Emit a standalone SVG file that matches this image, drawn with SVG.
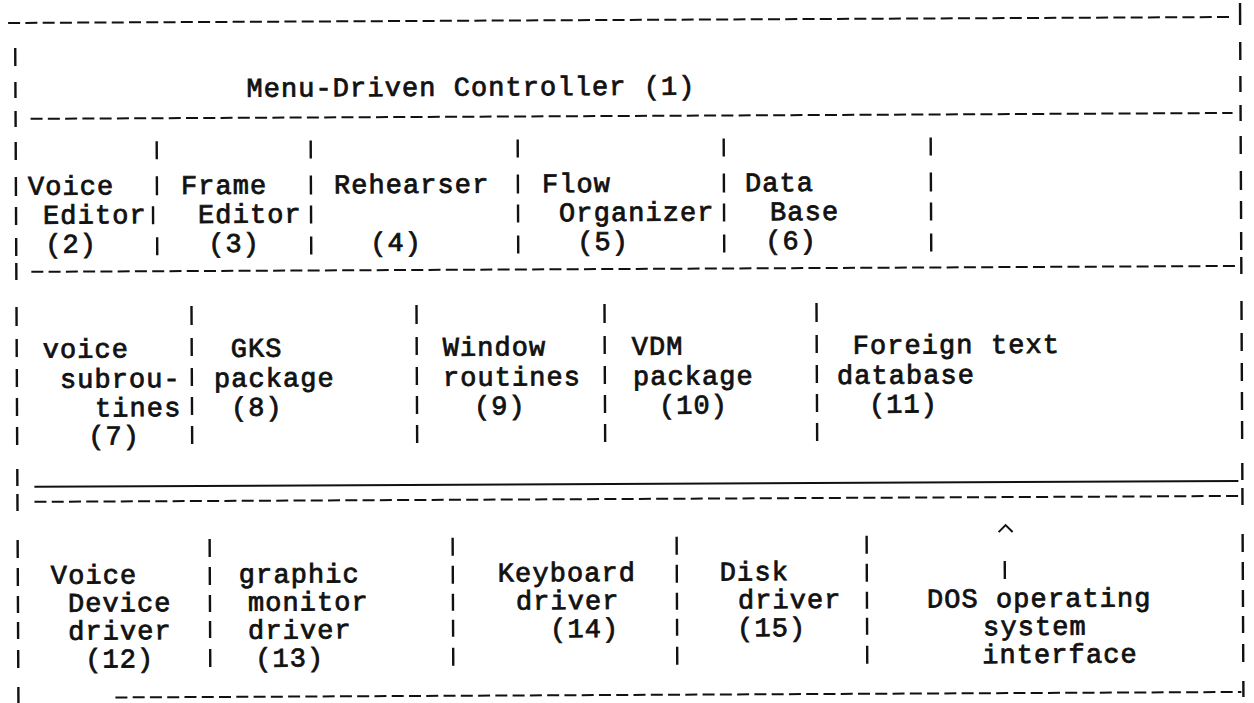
<svg xmlns="http://www.w3.org/2000/svg" width="1254" height="703" viewBox="0 0 1254 703">
<style>
.t{font-family:"Liberation Mono","Courier New",monospace;font-size:27px;letter-spacing:1.07px;fill:#111;stroke:#111;stroke-width:0.8}
.d{stroke:#111;stroke-width:2;fill:none;stroke-dasharray:12 5.27}
.b{stroke:#111;stroke-width:2.4;fill:none}
.s{stroke:#111;stroke-width:2;fill:none}
</style>
<rect width="1254" height="703" fill="#fff"/>
<g transform="rotate(-0.28)">
<g id="frame">
<path class="d" d="M8 23H1232M30 119H1232M30 272H1234M32 502H1238M112 698H1238"/>
<path class="s" d="M32 487H1236"/>
<path class="b" d="M15 48V66M15 82V98M15 111V127M15 142V160M15 177V196M15 207V225M15 238V256M15 263V280M15 307V326M15 339V357M15 369V387M15 398V416M15 427V445M15 469V486M15 494V511M15 540V558M15 568V586M15 596V613M15 622V639M15 650V668M15 687V703"/>
<path class="b" d="M1240 9V31M1240 48V66M1240 82V98M1240 111V127M1240 142V160M1240 177V196M1240 207V225M1240 238V256M1240 263V280M1240 307V326M1240 339V357M1240 369V387M1240 398V416M1240 427V445M1240 469V486M1240 494V511M1240 540V558M1240 568V586M1240 596V613M1240 622V639M1240 650V668M1240 687V703"/>
<path class="b" d="M156 142V160M156 177V196M152 207V225M156 238V256M310 142V160M310 177V196M310 207V225M310 238V256M517 142V160M517 177V196M517 207V225M517 238V256M723 142V160M723 177V196M723 207V225M723 238V256M930 142V160M930 177V196M930 207V225M930 238V256"/>
<path class="b" d="M190 307V326M190 339V357M190 369V387M190 398V416M190 427V445M415 307V326M415 339V357M415 369V387M415 398V416M415 427V445M603 307V326M603 339V357M603 369V387M603 398V416M603 427V445M815 307V326M815 339V357M815 369V387M815 398V416M815 427V445"/>
<path class="b" d="M207 540V558M207 568V586M207 596V613M207 622V639M207 650V668M450 540V558M450 568V586M450 596V613M450 622V639M450 650V668M674 540V558M674 568V586M674 596V613M674 622V639M674 650V668M864 540V558M864 568V586M864 596V613M864 622V639M864 650V668"/>
</g>
<g id="connectors">
<path class="s" d="M996 537L1003 530L1010 537"/>
<path class="b" d="M1002 566V584"/>
</g>
<g id="n1"><text class="t" x="246" y="98">Menu-Driven Controller (1)</text></g>
<g id="n2"><text class="t" x="27" y="195">Voice</text><text class="t" x="42" y="224">Editor</text><text class="t" x="44" y="253">(2)</text></g>
<g id="n3"><text class="t" x="180" y="195">Frame</text><text class="t" x="197" y="224">Editor</text><text class="t" x="207" y="253">(3)</text></g>
<g id="n4"><text class="t" x="333" y="195">Rehearser</text><text class="t" x="369" y="253">(4)</text></g>
<g id="n5"><text class="t" x="541" y="195">Flow</text><text class="t" x="558" y="224">Organizer</text><text class="t" x="576" y="253">(5)</text></g>
<g id="n6"><text class="t" x="744" y="195">Data</text><text class="t" x="769" y="224">Base</text><text class="t" x="764" y="253">(6)</text></g>
<g id="n7"><text class="t" x="41" y="358">voice</text><text class="t" x="58" y="388">subrou-</text><text class="t" x="93" y="417">tines</text><text class="t" x="86" y="445">(7)</text></g>
<g id="n8"><text class="t" x="229" y="358">GKS</text><text class="t" x="212" y="388">package</text><text class="t" x="229" y="417">(8)</text></g>
<g id="n9"><text class="t" x="441" y="358">Window</text><text class="t" x="441" y="388">routines</text><text class="t" x="472" y="417">(9)</text></g>
<g id="n10"><text class="t" x="630" y="358">VDM</text><text class="t" x="631" y="388">package</text><text class="t" x="657" y="417">(10)</text></g>
<g id="n11"><text class="t" x="851" y="358">Foreign text</text><text class="t" x="835" y="388">database</text><text class="t" x="867" y="417">(11)</text></g>
<g id="n12"><text class="t" x="48" y="584">Voice</text><text class="t" x="65" y="612">Device</text><text class="t" x="65" y="640">driver</text><text class="t" x="82" y="668">(12)</text></g>
<g id="n13"><text class="t" x="236" y="584">graphic</text><text class="t" x="245" y="612">monitor</text><text class="t" x="245" y="640">driver</text><text class="t" x="252" y="668">(13)</text></g>
<g id="n14"><text class="t" x="495" y="584">Keyboard</text><text class="t" x="513" y="612">driver</text><text class="t" x="547" y="640">(14)</text></g>
<g id="n15"><text class="t" x="717" y="584">Disk</text><text class="t" x="735" y="612">driver</text><text class="t" x="734" y="640">(15)</text></g>
<g id="n16"><text class="t" x="924" y="612">DOS operating</text><text class="t" x="980" y="640">system</text><text class="t" x="979" y="668">interface</text></g>
</g>
</svg>
